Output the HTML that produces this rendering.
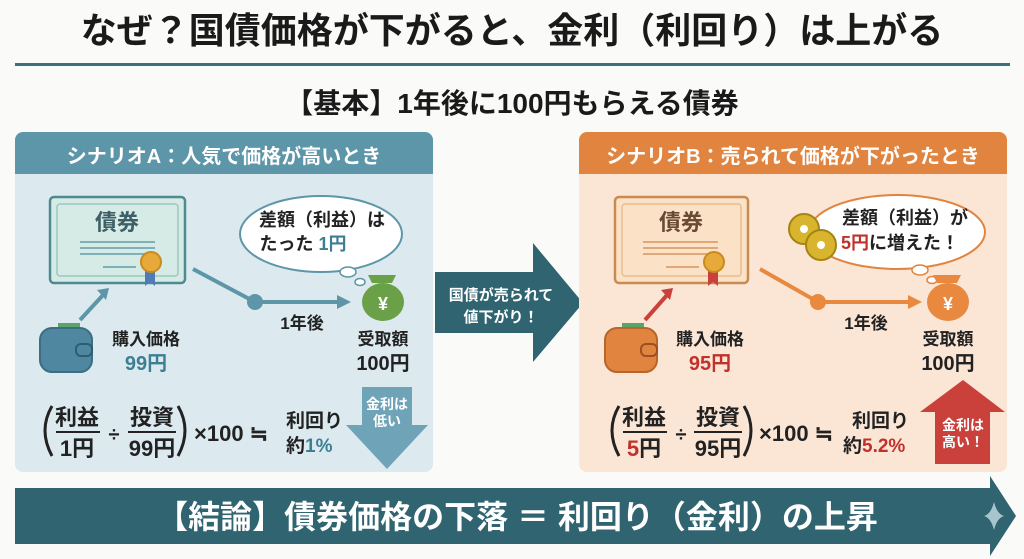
<!DOCTYPE html>
<html><head><meta charset="utf-8"><style>
html,body{margin:0;padding:0;background:#fafaf8;}
svg{display:block;}
text{font-family:"Liberation Sans","Noto Sans CJK JP",sans-serif;font-weight:bold;}
</style></head><body>
<svg width="1024" height="559" viewBox="0 0 1024 559" xmlns="http://www.w3.org/2000/svg">
<rect width="1024" height="559" fill="#fafaf8"/>
<text x="512" y="43" font-size="36" text-anchor="middle" fill="#1a1a1a">なぜ？国債価格が下がると、金利（利回り）は上がる</text>
<rect x="15" y="63" width="995" height="3" fill="#3d6f7c"/>
<text x="512" y="113" font-size="28" text-anchor="middle" fill="#1a1a1a">【基本】1年後に100円もらえる債券</text>

<!-- Panel A -->
<rect x="15" y="132" width="418" height="340" rx="8" fill="#dceaf0"/>
<path d="M15 174 V140 a8 8 0 0 1 8 -8 H425 a8 8 0 0 1 8 8 V174 Z" fill="#5d96a8"/>
<text x="224" y="163" font-size="20" text-anchor="middle" fill="#fff" font-weight="normal">シナリオA：人気で価格が高いとき</text>
<rect x="50" y="197" width="135" height="86" rx="4" fill="#d6ebe5" stroke="#4f8a92" stroke-width="2.5"/>
<rect x="57" y="204" width="121" height="72" rx="3" fill="none" stroke="#9cc7c4" stroke-width="1.5"/>
<text x="117" y="230" font-size="22" text-anchor="middle" fill="#3f5f66">債券</text>
<rect x="80" y="241" width="75" height="2" fill="#7eb0b8"/><rect x="80" y="247" width="75" height="2" fill="#7eb0b8"/><rect x="80" y="253" width="75" height="2" fill="#7eb0b8"/><rect x="103" y="266" width="33" height="2" fill="#7eb0b8"/>
<path d="M145 268 v18 l5 -4 l5 4 v-18 z" fill="#4f7cb8"/>
<circle cx="151" cy="262" r="10" fill="#e8a93b" stroke="#c98a20" stroke-width="2"/>
<line x1="80" y1="320" x2="104" y2="294" stroke="#5d96a8" stroke-width="4"/>
<path d="M97 290 l12 -2 l-3 12 z" fill="#5d96a8"/>
<rect x="58" y="323" width="22" height="8" fill="#5aa36a"/>
<rect x="40" y="328" width="52" height="44" rx="12" fill="#4f87a0" stroke="#3b6e82" stroke-width="2"/>
<rect x="76" y="344" width="16" height="12" rx="5" fill="#4f87a0" stroke="#2f5d6f" stroke-width="2"/>
<text x="146" y="345" font-size="17" text-anchor="middle" fill="#222">購入価格</text>
<text x="146" y="370" font-size="20" text-anchor="middle" fill="#3d7f92">99円</text>
<polyline points="193,269 255,302 340,302" fill="none" stroke="#5d96a8" stroke-width="4"/>
<circle cx="255" cy="302" r="8" fill="#5d96a8"/>
<path d="M337 295 l14 7 l-14 7 z" fill="#5d96a8"/>
<text x="302" y="329" font-size="17" text-anchor="middle" fill="#222">1年後</text>
<ellipse cx="321" cy="234" rx="81" ry="38" fill="#fff" stroke="#5d96a8" stroke-width="2"/>
<ellipse cx="348" cy="272" rx="8" ry="5" fill="#fff" stroke="#5d96a8" stroke-width="1.5"/>
<ellipse cx="360" cy="282" rx="5" ry="3.5" fill="#fff" stroke="#5d96a8" stroke-width="1.5"/>
<text x="322" y="226" font-size="18" text-anchor="middle" fill="#222">差額（利益）は</text>
<text x="303" y="250" font-size="18" text-anchor="middle" fill="#222">たった <tspan fill="#3d7f92">1円</tspan></text>
<path d="M372 283 l-4 -8 h28 l-4 8 z" fill="#6aa047"/>
<ellipse cx="383" cy="302" rx="21" ry="19" fill="#6aa047"/>
<text x="383" y="310" font-size="18" text-anchor="middle" fill="#fff">¥</text>
<text x="383" y="345" font-size="17" text-anchor="middle" fill="#222">受取額</text>
<text x="383" y="370" font-size="20" text-anchor="middle" fill="#222">100円</text>
<!-- formula A -->
<path d="M52 406 Q38 430 52 456" fill="none" stroke="#222" stroke-width="3"/>
<text x="77" y="425" font-size="22" text-anchor="middle" fill="#222">利益</text>
<rect x="56" y="431" width="44" height="2" fill="#222"/>
<text x="77" y="456" font-size="22" text-anchor="middle" fill="#222">1円</text>
<text x="114" y="441" font-size="20" text-anchor="middle" fill="#222">÷</text>
<text x="152" y="425" font-size="22" text-anchor="middle" fill="#222">投資</text>
<rect x="128" y="431" width="48" height="2" fill="#222"/>
<text x="152" y="456" font-size="22" text-anchor="middle" fill="#222">99円</text>
<path d="M178 406 Q192 430 178 456" fill="none" stroke="#222" stroke-width="3"/>
<text x="194" y="441" font-size="22" fill="#222">×100 ≒</text>
<text x="286" y="427" font-size="19" fill="#222">利回り</text>
<text x="286" y="452" font-size="19" fill="#222">約<tspan fill="#3d7f92">1%</tspan></text>
<path d="M362 387 h50 v38 h16 l-41 44 l-41 -44 h16 z" fill="#6fa4b8"/>
<text x="387" y="409" font-size="14" text-anchor="middle" fill="#fff">金利は</text>
<text x="387" y="426" font-size="14" text-anchor="middle" fill="#fff">低い</text>

<path d="M435 272 h98 v-29 l50 60 l-50 59 v-29 h-98 z" fill="#2f6470"/>
<text x="501" y="300" font-size="15" text-anchor="middle" fill="#fff">国債が売られて</text>
<text x="501" y="322" font-size="15" text-anchor="middle" fill="#fff">値下がり！</text>

<!-- Panel B -->
<rect x="579" y="132" width="428" height="340" rx="8" fill="#fbe6d6"/>
<path d="M579 174 V140 a8 8 0 0 1 8 -8 H999 a8 8 0 0 1 8 8 V174 Z" fill="#e0843f"/>
<text x="793" y="163" font-size="20" text-anchor="middle" fill="#fff" font-weight="normal">シナリオB：売られて価格が下がったとき</text>
<rect x="615" y="197" width="133" height="86" rx="4" fill="#fbe2c6" stroke="#c98a50" stroke-width="2.5"/>
<rect x="622" y="204" width="119" height="72" rx="3" fill="none" stroke="#e8bd92" stroke-width="1.5"/>
<text x="681" y="230" font-size="22" text-anchor="middle" fill="#6a4a33">債券</text>
<rect x="643" y="241" width="75" height="2" fill="#e0a878"/><rect x="643" y="247" width="75" height="2" fill="#e0a878"/><rect x="643" y="253" width="75" height="2" fill="#e0a878"/><rect x="666" y="266" width="33" height="2" fill="#e0a878"/>
<path d="M708 268 v18 l5 -4 l5 4 v-18 z" fill="#c9413a"/>
<circle cx="714" cy="262" r="10" fill="#e8a93b" stroke="#c98a20" stroke-width="2"/>
<line x1="645" y1="320" x2="668" y2="294" stroke="#c9413a" stroke-width="4"/>
<path d="M661 290 l12 -2 l-3 12 z" fill="#c9413a"/>
<rect x="622" y="323" width="22" height="8" fill="#5aa36a"/>
<rect x="605" y="328" width="52" height="44" rx="12" fill="#e0843f" stroke="#b8652a" stroke-width="2"/>
<rect x="641" y="344" width="16" height="12" rx="5" fill="#e0843f" stroke="#9a5020" stroke-width="2"/>
<text x="710" y="345" font-size="17" text-anchor="middle" fill="#222">購入価格</text>
<text x="710" y="370" font-size="20" text-anchor="middle" fill="#c0312b">95円</text>
<polyline points="760,269 818,302 910,302" fill="none" stroke="#e8893f" stroke-width="4"/>
<circle cx="818" cy="302" r="8" fill="#e8893f"/>
<path d="M908 295 l14 7 l-14 7 z" fill="#e8893f"/>
<text x="866" y="329" font-size="17" text-anchor="middle" fill="#222">1年後</text>
<ellipse cx="897" cy="232" rx="88" ry="37" fill="#fff" stroke="#e0843f" stroke-width="2"/>
<ellipse cx="920" cy="270" rx="8" ry="5" fill="#fff" stroke="#e0843f" stroke-width="1.5"/>
<ellipse cx="932" cy="280" rx="5" ry="3.5" fill="#fff" stroke="#e0843f" stroke-width="1.5"/>
<text x="905" y="224" font-size="18" text-anchor="middle" fill="#222">差額（利益）が</text>
<text x="900" y="249" font-size="18" text-anchor="middle" fill="#222"><tspan fill="#c0312b">5円</tspan>に増えた！</text>
<circle cx="804" cy="229" r="15" fill="#d9b52e" stroke="#a58415" stroke-width="2"/><circle cx="804" cy="229" r="4" fill="#fff"/>
<circle cx="821" cy="245" r="15" fill="#d9b52e" stroke="#a58415" stroke-width="2"/><circle cx="821" cy="245" r="4" fill="#fff"/>
<path d="M937 283 l-4 -8 h28 l-4 8 z" fill="#e8893f"/>
<ellipse cx="948" cy="302" rx="21" ry="19" fill="#e8893f"/>
<text x="948" y="310" font-size="18" text-anchor="middle" fill="#fff">¥</text>
<text x="948" y="345" font-size="17" text-anchor="middle" fill="#222">受取額</text>
<text x="948" y="370" font-size="20" text-anchor="middle" fill="#222">100円</text>
<path d="M619 406 Q605 430 619 456" fill="none" stroke="#222" stroke-width="3"/>
<text x="644" y="425" font-size="22" text-anchor="middle" fill="#222">利益</text>
<rect x="623" y="431" width="44" height="2" fill="#222"/>
<text x="644" y="456" font-size="22" text-anchor="middle" fill="#222"><tspan fill="#c0312b">5</tspan>円</text>
<text x="681" y="441" font-size="20" text-anchor="middle" fill="#222">÷</text>
<text x="718" y="425" font-size="22" text-anchor="middle" fill="#222">投資</text>
<rect x="694" y="431" width="48" height="2" fill="#222"/>
<text x="718" y="456" font-size="22" text-anchor="middle" fill="#222">95円</text>
<path d="M744 406 Q758 430 744 456" fill="none" stroke="#222" stroke-width="3"/>
<text x="759" y="441" font-size="22" fill="#222">×100 ≒</text>
<text x="852" y="427" font-size="19" fill="#222">利回り</text>
<text x="843" y="452" font-size="19" fill="#222">約<tspan fill="#c0312b">5.2%</tspan></text>
<path d="M963 380 l42 32 h-15 v52 h-55 v-52 h-15 z" fill="#c9413a"/>
<text x="963" y="430" font-size="14" text-anchor="middle" fill="#fff">金利は</text>
<text x="963" y="447" font-size="14" text-anchor="middle" fill="#fff">高い！</text>

<path d="M15 488 H990 V476 L1016 516 L990 556 V544 H15 Z" fill="#2f6470"/>
<path d="M994 502 q3 12 10 14 q-7 2 -10 14 q-3 -12 -10 -14 q7 -2 10 -14 z" fill="#a8c4cc"/>
<text x="517" y="528" font-size="32" text-anchor="middle" fill="#fff">【結論】債券価格の下落 ＝ 利回り（金利）の上昇</text>
</svg>
</body></html>
